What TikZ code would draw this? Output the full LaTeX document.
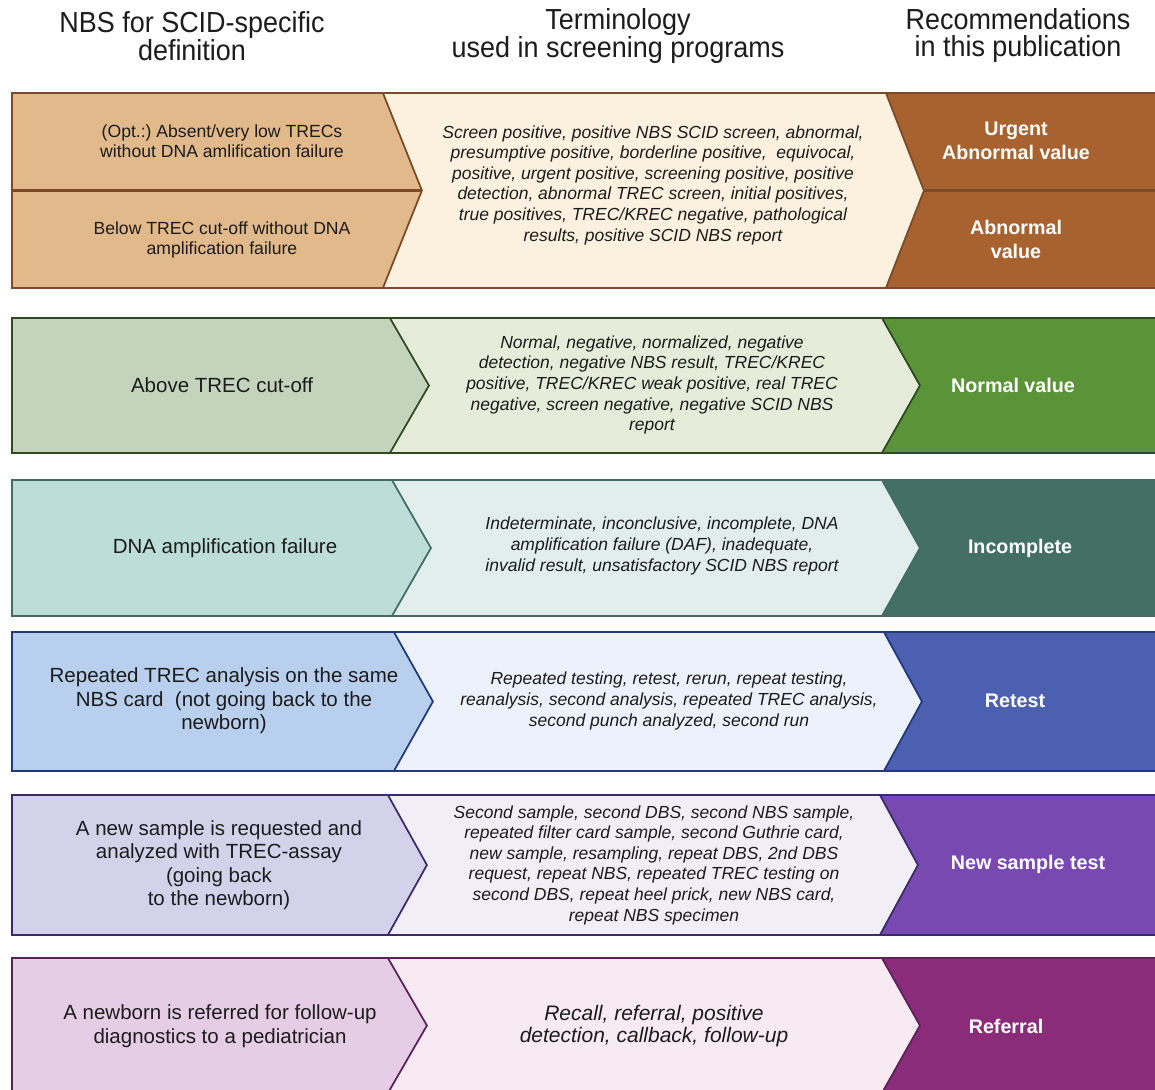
\documentclass[tikz,border=0pt]{standalone}
\usepackage{fontspec}
\setmainfont{Liberation Sans}
\newfontfamily\headfont{Liberation Sans}[FakeStretch=0.93]
\usepackage{tikz}
\usetikzlibrary{calc}
\usepackage{xcolor}
\frenchspacing
\definecolor{textdark}{HTML}{1C1C1C}
\definecolor{tanleft}{HTML}{E2B98A}
\definecolor{tanmid}{HTML}{FBF1DE}
\definecolor{tanright}{HTML}{A8622F}
\definecolor{tanline}{HTML}{7B4A2B}
\definecolor{sageleft}{HTML}{C4D4BC}
\definecolor{sagemid}{HTML}{E5ECDA}
\definecolor{sageright}{HTML}{5B9339}
\definecolor{sageline}{HTML}{2F4A23}
\definecolor{tealleft}{HTML}{BDDDD8}
\definecolor{tealmid}{HTML}{E1EEEC}
\definecolor{tealright}{HTML}{446F65}
\definecolor{tealline}{HTML}{456B66}
\definecolor{blueleft}{HTML}{B8CFEE}
\definecolor{bluemid}{HTML}{EDF1FB}
\definecolor{blueright}{HTML}{4C60B1}
\definecolor{blueline}{HTML}{22397A}
\definecolor{violetleft}{HTML}{D4D1EB}
\definecolor{violetmid}{HTML}{F1EEF6}
\definecolor{violetright}{HTML}{784AB1}
\definecolor{violetline}{HTML}{3B2B68}
\definecolor{plumleft}{HTML}{E6CDE6}
\definecolor{plummid}{HTML}{F8EAF3}
\definecolor{plumright}{HTML}{8A2C79}
\definecolor{plumline}{HTML}{5B2159}
% one row of three chevrons: top, bottom, colour prefix, left corner x, middle corner x
\newcommand{\scidrow}[5]{%
    \pgfmathsetmacro{\ymid}{(#1+#2)/2}
    \pgfmathsetmacro{\xltip}{#4+39}
    \pgfmathsetmacro{\xmtip}{#5+38}
    \filldraw[rowline, draw=#3line, fill=#3left]
        (12,#1) -- (#4,#1) -- (\xltip,\ymid) -- (#4,#2) -- (12,#2) -- cycle;
    \filldraw[rowline, draw=#3line, fill=#3mid]
        (#4,#1) -- (#5,#1) -- (\xmtip,\ymid) -- (#5,#2) -- (#4,#2) -- (\xltip,\ymid) -- cycle;
    \filldraw[rowline, draw=#3line, fill=#3right]
        (#5,#1) -- (1162,#1) -- (1162,#2) -- (#5,#2) -- (\xmtip,\ymid) -- cycle;
}

\begin{document}
\begin{tikzpicture}[x=1pt, y=-1pt,
    rowline/.style={line width=1.6pt, line join=miter},
    headtext/.style={font=\headfont\fontsize{29}{27}\selectfont, align=center, text=textdark, inner sep=0pt},
    deftext/.style={font=\fontsize{20.5}{23.5}\selectfont, align=center, text=textdark, inner sep=0pt},
    termtext/.style={font=\fontsize{17.5}{20.6}\selectfont\itshape, align=center, text=textdark, inner sep=0pt},
    rectext/.style={font=\fontsize{19.7}{24}\selectfont\bfseries, align=center, text=white, inner sep=0pt}]
    \useasboundingbox (0,0) rectangle (1155,1089);
    \clip (0,0) rectangle (1155,1089);
    \fill[white] (0,0) rectangle (1155,1089);

    % Column headers
    \node[headtext] (hdef) at (192,36) {NBS for SCID-specific\\definition};
    \node[headtext] (hterm) at (618,36) {Terminology\\used in screening programs};
    \node[headtext] (hrec) at (1018,36) {Recommendations\\in this publication};

    % Rows
    \scidrow{93}{288}{tan}{383}{886}
    \draw[line width=3pt, tanline] (12,190) -- (422,190);
    \draw[line width=3pt, tanline] (924,190) -- (1162,190);
    \scidrow{318}{453}{sage}{390}{882}
    \scidrow{480}{616}{teal}{392}{882}
    \scidrow{632}{771}{blue}{394}{884}
    \scidrow{795}{935}{violet}{388}{880}
    \scidrow{958}{1093}{plum}{388}{882}

    % Definitions
    \node[deftext, font=\fontsize{17.6}{20.5}\selectfont] (def1a) at (222,141)
        {(Opt.:) Absent/very low TRECs\\without DNA amlification failure};
    \node[deftext, font=\fontsize{17.6}{20.5}\selectfont] (def1b) at (222,240)
        {Below TREC cut-off without DNA\\amplification failure};
    \node[deftext] (def2) at (222,385) {Above TREC cut-off};
    \node[deftext] (def3) at (225,548) {DNA amplification failure};
    \node[deftext] (def4) at (224,701)
        {Repeated TREC analysis on the same\\NBS card\ \ (not going back to the\\newborn)};
    \node[deftext] (def5) at (219,865)
        {A new sample is requested and\\analyzed with TREC-assay\\(going back\\to the newborn)};
    \node[deftext] (def6) at (220,1026)
        {A newborn is referred for follow-up\\diagnostics to a pediatrician};

    % Terminology
    \node[termtext] (term1) at (653,185)
        {Screen positive, positive NBS SCID screen, abnormal,\\
         presumptive positive, borderline positive,\ \ equivocal,\\
         positive, urgent positive, screening positive, positive\\
         detection, abnormal TREC screen, initial positives,\\
         true positives, TREC/KREC negative, pathological\\
         results, positive SCID NBS report};
    \node[termtext] (term2) at (652,385)
        {Normal, negative, normalized, negative\\
         detection, negative NBS result, TREC/KREC\\
         positive, TREC/KREC weak positive, real TREC\\
         negative, screen negative, negative SCID NBS\\
         report};
    \node[termtext] (term3) at (662,546)
        {Indeterminate, inconclusive, incomplete, DNA\\
         amplification failure (DAF), inadequate,\\
         invalid result, unsatisfactory SCID NBS report};
    \node[termtext] (term4) at (669,701)
        {Repeated testing, retest, rerun, repeat testing,\\
         reanalysis, second analysis, repeated TREC analysis,\\
         second punch analyzed, second run};
    \node[termtext] (term5) at (654,865)
        {Second sample, second DBS, second NBS sample,\\
         repeated filter card sample, second Guthrie card,\\
         new sample, resampling, repeat DBS, 2nd DBS\\
         request, repeat NBS, repeated TREC testing on\\
         second DBS, repeat heel prick, new NBS card,\\
         repeat NBS specimen};
    \node[termtext, font=\fontsize{21}{21.5}\selectfont\itshape] (term6) at (654,1026)
        {Recall, referral, positive\\detection, callback, follow-up};

    % Recommendations
    \node[rectext] (rec1a) at (1016,141) {Urgent\\Abnormal value};
    \node[rectext] (rec1b) at (1016,239) {Abnormal\\value};
    \node[rectext] (rec2) at (1013,385) {Normal value};
    \node[rectext] (rec3) at (1020,548) {Incomplete};
    \node[rectext] (rec4) at (1015,701) {Retest};
    \node[rectext] (rec5) at (1028,864) {New sample test};
    \node[rectext] (rec6) at (1006,1026) {Referral};
\end{tikzpicture}
\end{document}
